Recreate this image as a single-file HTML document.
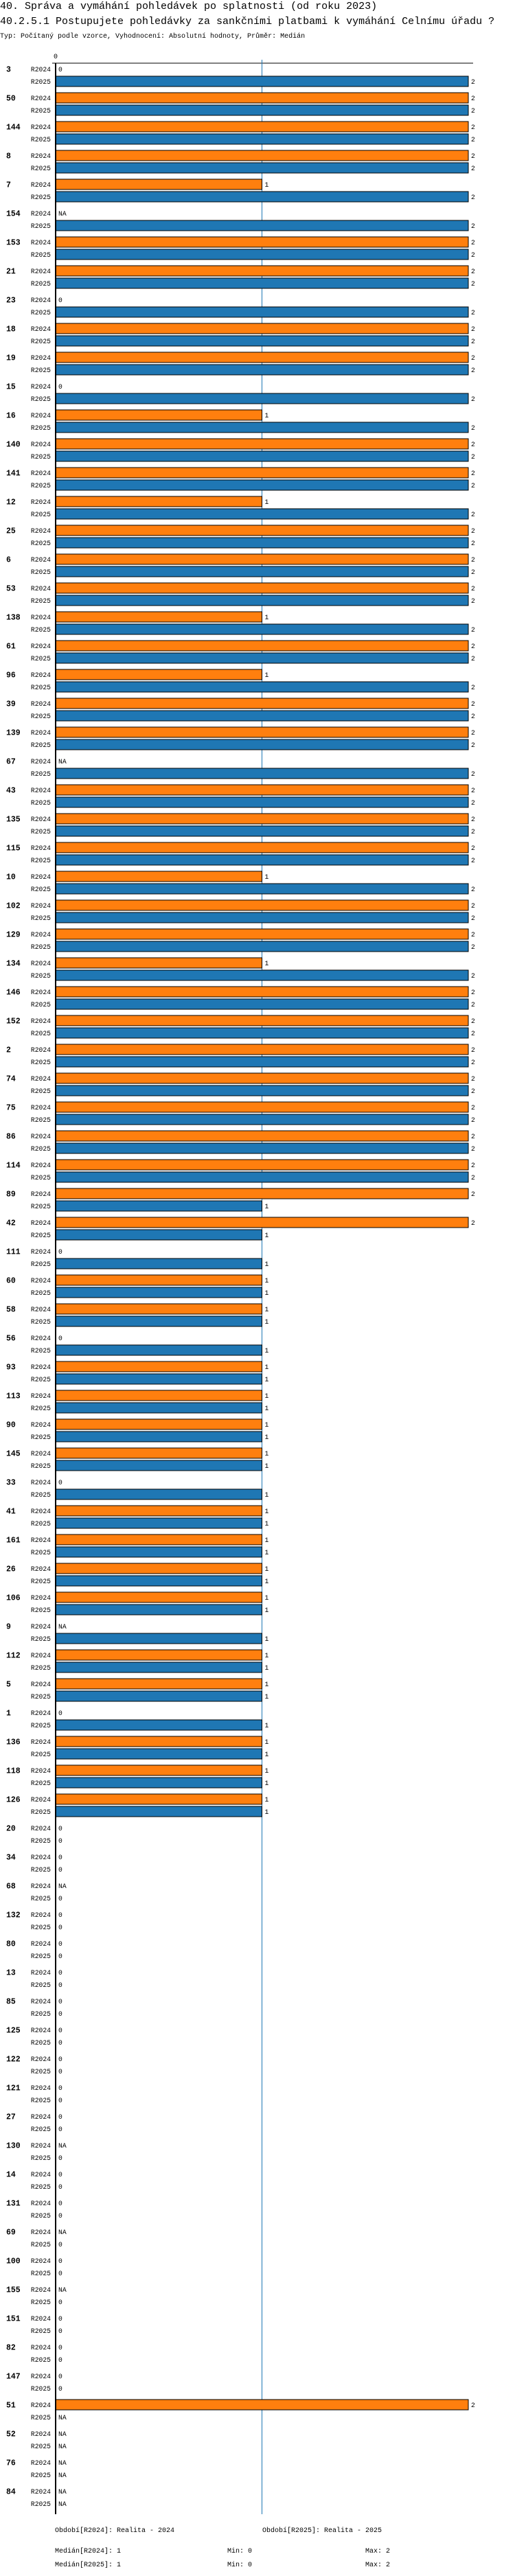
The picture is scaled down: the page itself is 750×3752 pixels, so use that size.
<!DOCTYPE html>
<html><head><meta charset="utf-8">
<style>
body{margin:0;background:#fff;}
svg{display:block;}
text{font-family:"Liberation Mono",monospace;fill:#000;}
</style></head>
<body>
<svg id="chart" width="750" height="3752" xmlns="http://www.w3.org/2000/svg">
<text x="0" y="13" font-size="15">40. Správa a vymáhání pohledávek po splatnosti (od roku 2023)</text>
<text x="0" y="35" font-size="15">40.2.5.1 Postupujete pohledávky za sankčními platbami k vymáhání Celnímu úřadu ?</text>
<text x="0" y="55" font-size="10">Typ: Počítaný podle vzorce, Vyhodnocení: Absolutní hodnoty, Průměr: Medián</text>
<g id="plot"></g>
<text x="80" y="3688" font-size="10">Období[R2024]: Realita - 2024</text>
<text x="382" y="3688" font-size="10">Období[R2025]: Realita - 2025</text>
<text x="80" y="3718" font-size="10">Medián[R2024]: 1</text>
<text x="331" y="3718" font-size="10">Min: 0</text>
<text x="532" y="3718" font-size="10">Max: 2</text>
<text x="80" y="3738" font-size="10">Medián[R2025]: 1</text>
<text x="331" y="3738" font-size="10">Min: 0</text>
<text x="532" y="3738" font-size="10">Max: 2</text>
</svg>
<script>
const categories = ["3","50","144","8","7","154","153","21","23","18","19","15","16","140","141","12","25","6","53","138","61","96","39","139","67","43","135","115","10","102","129","134","146","152","2","74","75","86","114","89","42","111","60","58","56","93","113","90","145","33","41","161","26","106","9","112","5","1","136","118","126","20","34","68","132","80","13","85","125","122","121","27","130","14","131","69","100","155","151","82","147","51","52","76","84"];
const valuesR2024 = [0,2,2,2,1,null,2,2,0,2,2,0,1,2,2,1,2,2,2,1,2,1,2,2,null,2,2,2,1,2,2,1,2,2,2,2,2,2,2,2,2,0,1,1,0,1,1,1,1,0,1,1,1,1,null,1,1,0,1,1,1,0,0,null,0,0,0,0,0,0,0,0,null,0,0,null,0,null,0,0,0,2,null,null,null];
const valuesR2025 = [2,2,2,2,2,2,2,2,2,2,2,2,2,2,2,2,2,2,2,2,2,2,2,2,2,2,2,2,2,2,2,2,2,2,2,2,2,2,2,1,1,1,1,1,1,1,1,1,1,1,1,1,1,1,1,1,1,1,1,1,1,0,0,0,0,0,0,0,0,0,0,0,0,0,0,0,0,0,0,0,0,null,null,null,null];
const seriesNames = ["R2024","R2025"];
const medianValue = 1;
const xTicks = [0];

const NS = "http://www.w3.org/2000/svg";
const plot = document.getElementById("plot");
const X0 = 81, UNIT = 300.5, TOP = 92, PITCH = 42, FIRST = 100.5, BAR_H = 15, BOTTOM = 3662;
const xScale = v => X0 + v * UNIT;
const yScale = (i, s) => FIRST + i * PITCH + s * 18;
function mk(tag, attrs) { const e = document.createElementNS(NS, tag); for (const k in attrs) e.setAttribute(k, attrs[k]); plot.appendChild(e); return e; }

let ax = mk("line", {x1: 76, x2: 689, y1: TOP, y2: TOP, stroke: "#000", "stroke-width": 1});


xTicks.forEach(t => {
  const tt = mk("text", {x: xScale(t), y: 85, "font-size": 10, "text-anchor": "middle"});
  tt.textContent = t;
  
  
});
let ml = mk("line", {x1: xScale(medianValue), x2: xScale(medianValue), y1: 87, y2: BOTTOM, stroke: "#1f77b4", "stroke-width": 1});



const series = [valuesR2024, valuesR2025];
const colors = ["#ff7f0e", "#1f77b4"];
categories.forEach((c, i) => {
  const g = mk("text", {x: 9, y: yScale(i, 0) + 4, "font-size": 11.5, "font-weight": "bold"});
  g.textContent = c;
  
  
  series.forEach((vals, s) => {
    const cy = yScale(i, s);
    const lab = mk("text", {x: 74, y: cy + 3.5, "font-size": 9.7, "text-anchor": "end"});
    lab.textContent = seriesNames[s];
    
    
    const v = vals[i];
    if (v !== null && v > 0) {
      const r = mk("rect", {x: X0, y: cy - BAR_H / 2, width: xScale(v) - X0, height: BAR_H, fill: colors[s], stroke: "#000", "stroke-width": 1});
      
      
      const vt = mk("text", {x: xScale(v) + 4, y: cy + 3.5, "font-size": 9.7});
      vt.textContent = v;
      
      
    } else {
      const vt = mk("text", {x: 85, y: cy + 3.5, "font-size": 9.7});
      vt.textContent = v === null ? "NA" : "0";
      
      
    }
  });
});
let yl = mk("line", {x1: X0, x2: X0, y1: TOP, y2: BOTTOM, stroke: "#000", "stroke-width": 2});


</script>
</body></html>
